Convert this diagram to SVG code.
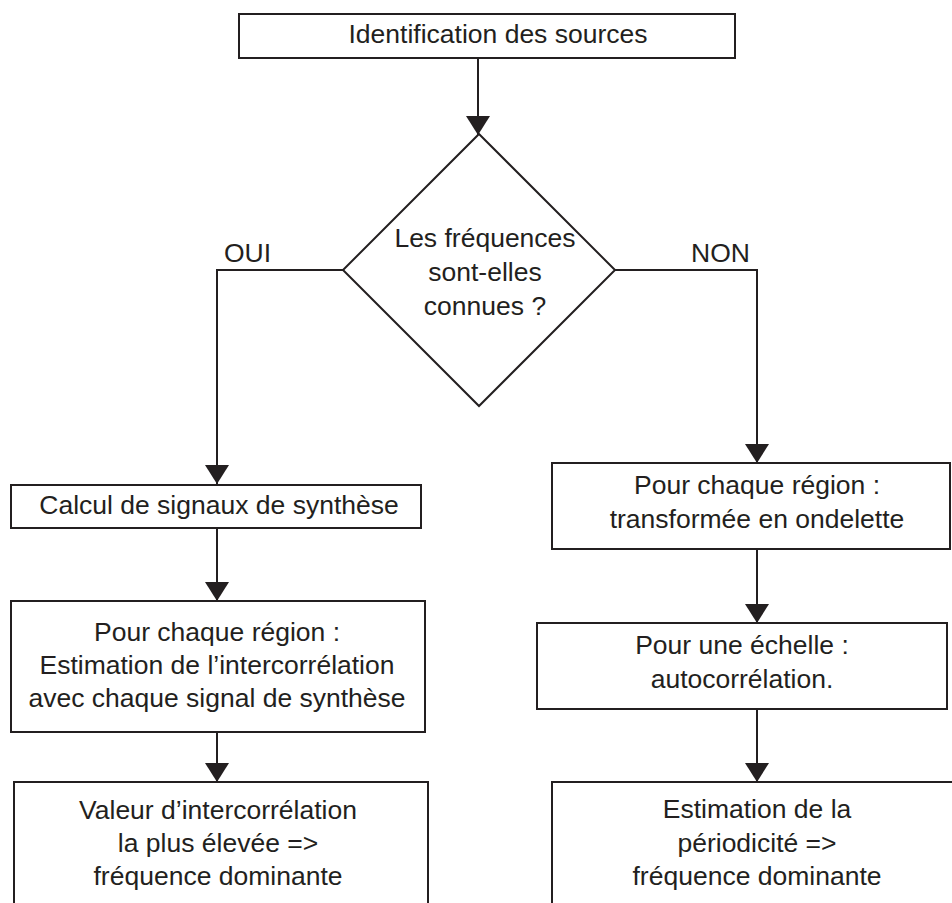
<svg xmlns="http://www.w3.org/2000/svg" width="952" height="903" viewBox="0 0 952 903">
<style>
  .box{fill:#fff;stroke:#231f20;stroke-width:2}
  .ln{fill:none;stroke:#231f20;stroke-width:2}
  text{font-family:"Liberation Sans",Arial,sans-serif;font-size:26.5px;fill:#231f20;text-anchor:middle}
</style>
<defs>
  <marker id="ah" viewBox="0 0 19 24" refX="19" refY="12" markerWidth="19" markerHeight="24" orient="auto" markerUnits="userSpaceOnUse">
    <path d="M0,0 L19,12 L0,24 z" fill="#231f20"/>
  </marker>
</defs>
<rect width="952" height="903" fill="#fff"/>
<g id="connectors">
  <line class="ln" x1="478" y1="58" x2="478" y2="135" marker-end="url(#ah)"/>
  <polyline class="ln" points="343,270 217,270 217,484" marker-end="url(#ah)"/>
  <polyline class="ln" points="615,270 757,270 757,463" marker-end="url(#ah)"/>
  <line class="ln" x1="217" y1="528" x2="217" y2="601" marker-end="url(#ah)"/>
  <line class="ln" x1="217" y1="732" x2="217" y2="782" marker-end="url(#ah)"/>
  <line class="ln" x1="757" y1="549" x2="757" y2="623" marker-end="url(#ah)"/>
  <line class="ln" x1="757" y1="709" x2="757" y2="782" marker-end="url(#ah)"/>
  <text x="224" y="262" style="text-anchor:start">OUI</text>
  <text x="750" y="262" style="text-anchor:end">NON</text>
</g>
<g id="n-identification">
  <rect class="box" x="239" y="14" width="496" height="44"/>
  <text x="498" y="43">Identification des sources</text>
</g>
<g id="n-decision">
  <polygon class="box" points="479,134 615,270 479,406 343,270"/>
  <text x="485" y="247">Les fréquences</text>
  <text x="485" y="281">sont-elles</text>
  <text x="485" y="315">connues ?</text>
</g>
<g id="n-calcul">
  <rect class="box" x="11" y="485" width="410" height="43"/>
  <text x="219" y="514">Calcul de signaux de synthèse</text>
</g>
<g id="n-intercorr">
  <rect class="box" x="11" y="601" width="414" height="131"/>
  <text x="217" y="641">Pour chaque région :</text>
  <text x="217" y="674">Estimation de l’intercorrélation</text>
  <text x="217" y="707">avec chaque signal de synthèse</text>
</g>
<g id="n-valeur">
  <rect class="box" x="14" y="782" width="414" height="140"/>
  <text x="218" y="819">Valeur d’intercorrélation</text>
  <text x="218" y="852">la plus élevée =&gt;</text>
  <text x="218" y="885">fréquence dominante</text>
</g>
<g id="n-ondelette">
  <rect class="box" x="552" y="463" width="398" height="86"/>
  <text x="757" y="494">Pour chaque région :</text>
  <text x="757" y="528">transformée en ondelette</text>
</g>
<g id="n-autocorr">
  <rect class="box" x="537" y="623" width="410" height="86"/>
  <text x="742" y="654">Pour une échelle :</text>
  <text x="742" y="688">autocorrélation.</text>
</g>
<g id="n-periodicite">
  <rect class="box" x="552" y="782" width="420" height="140"/>
  <text x="757" y="818">Estimation de la</text>
  <text x="757" y="852">périodicité =&gt;</text>
  <text x="757" y="885">fréquence dominante</text>
</g>
</svg>
